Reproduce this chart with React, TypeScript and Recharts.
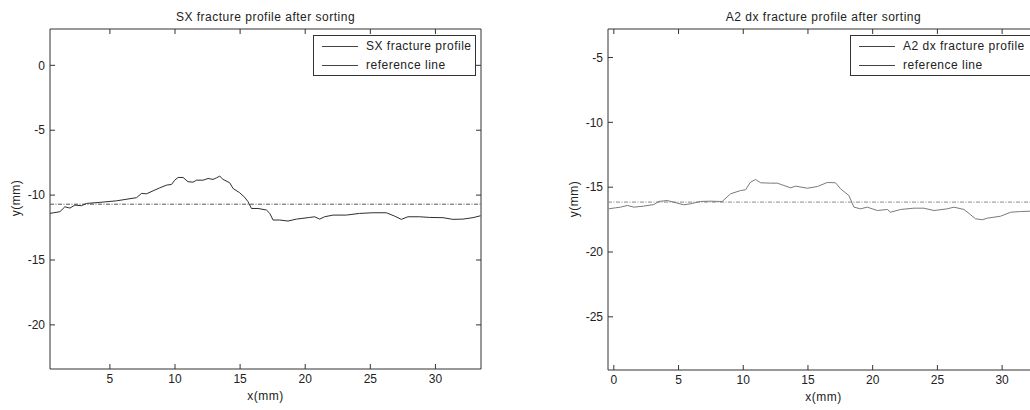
import { LineChart, Line, XAxis, YAxis, ReferenceLine, ReferenceArea } from "recharts";

// sorted fracture profiles, x in mm / y in mm
const SX_X = [0.39, 1.16, 1.54, 1.93, 2.31, 2.82, 3.2, 4.23, 5.51, 7.04, 7.43, 7.81, 8.32, 8.83, 9.35, 9.73, 9.98, 10.24, 10.62, 11.0, 11.39, 11.65, 12.16, 12.54, 12.92, 13.18, 13.44, 13.69, 14.2, 14.46, 14.97, 15.36, 15.61, 15.87, 16.38, 17.02, 17.28, 17.53, 18.04, 18.68, 19.32, 20.35, 20.73, 21.11, 21.49, 22.13, 23.16, 24.18, 25.2, 26.23, 26.87, 27.38, 27.89, 28.79, 29.55, 30.58, 31.34, 32.11, 32.88, 33.47];
const SX_Y = [-11.41, -11.28, -10.9, -11.0, -10.77, -10.82, -10.64, -10.56, -10.44, -10.2, -9.87, -9.9, -9.67, -9.44, -9.23, -9.18, -8.85, -8.64, -8.64, -8.97, -9.0, -8.85, -8.85, -8.72, -8.79, -8.67, -8.54, -8.79, -9.05, -9.49, -9.82, -10.18, -10.51, -11.03, -11.03, -11.15, -11.41, -11.92, -11.92, -12.0, -11.85, -11.72, -11.67, -11.85, -11.67, -11.54, -11.54, -11.41, -11.36, -11.36, -11.62, -11.87, -11.67, -11.67, -11.72, -11.74, -11.87, -11.85, -11.74, -11.59];
const SX_REF = -10.7;

const A2_X = [-0.39, 0.13, 0.52, 1.04, 1.55, 2.32, 3.09, 3.48, 4.13, 4.64, 5.41, 5.93, 6.7, 7.47, 8.11, 8.37, 9.02, 9.79, 10.18, 10.56, 10.95, 11.34, 12.11, 12.63, 13.14, 13.66, 14.04, 14.95, 15.72, 16.49, 17.13, 17.52, 18.16, 18.55, 19.06, 19.58, 20.36, 21.13, 21.38, 22.16, 23.18, 23.96, 24.73, 25.76, 26.28, 27.05, 27.57, 27.95, 28.47, 28.86, 29.88, 30.66, 31.43, 32.2, 32.85];
const A2_Y = [-16.67, -16.59, -16.54, -16.41, -16.54, -16.46, -16.34, -16.1, -16.03, -16.16, -16.36, -16.28, -16.1, -16.08, -16.1, -16.1, -15.51, -15.26, -15.2, -14.61, -14.41, -14.66, -14.69, -14.69, -14.87, -15.05, -14.92, -15.08, -14.95, -14.64, -14.66, -15.13, -15.64, -16.54, -16.67, -16.54, -16.8, -16.72, -16.93, -16.72, -16.62, -16.62, -16.8, -16.67, -16.54, -16.72, -17.13, -17.44, -17.51, -17.39, -17.24, -16.93, -16.88, -16.85, -16.82];
const A2_REF = -16.15;

const SX_XTICKS = [5, 10, 15, 20, 25, 30];
const SX_YTICKS = [-20, -15, -10, -5, 0];
const A2_XTICKS = [0, 5, 10, 15, 20, 25, 30];
const A2_YTICKS = [-25, -20, -15, -10, -5];

const FONT = '"Liberation Sans", Arial, Helvetica, sans-serif';
const W = 500;
const H = 410;
const PLOT_L = 50;
const PLOT_W = 431;
const PLOT_T = 29;
const TEXT = { fontSize: 12, letterSpacing: 0.5 };

const toPoints = (xs: number[], ys: number[]) => xs.map((x, i) => ({ x, y: ys[i] }));

interface PanelProps {
  left: number;
  title: string;
  name: string;
  xs: number[];
  ys: number[];
  refY: number;
  xDomain: [number, number];
  yDomain: [number, number];
  xTicks: number[];
  yTicks: number[];
  bottom: number;
  profileColor: string;
  refColor: string;
  legendW: number;
}

function Panel(p: PanelProps) {
  const data = toPoints(p.xs, p.ys);
  const plotB = H - p.bottom;
  const plotR = PLOT_L + PLOT_W;

  const xTick = (t: any) => (
    <g>
      <line x1={t.x} x2={t.x} y1={plotB} y2={plotB - 5} stroke="#333" />
      <line x1={t.x} x2={t.x} y1={PLOT_T} y2={PLOT_T + 5} stroke="#333" />
      <text x={t.x} y={plotB + 14} textAnchor="middle" fontSize={12} fontFamily={FONT} fill="#222">
        {t.payload.value}
      </text>
    </g>
  );

  const yTick = (t: any) => (
    <g>
      <line x1={PLOT_L} x2={PLOT_L + 5} y1={t.y} y2={t.y} stroke="#333" />
      <line x1={plotR} x2={plotR - 5} y1={t.y} y2={t.y} stroke="#333" />
      <text x={PLOT_L - 5} y={t.y} dy="0.35em" textAnchor="end" fontSize={12} fontFamily={FONT} fill="#222">
        {t.payload.value}
      </text>
    </g>
  );

  return (
    <div style={{ position: "absolute", left: p.left, top: 0, width: W, height: H, fontFamily: FONT, color: "#222" }}>
      <LineChart
        width={W}
        height={H}
        data={data}
        margin={{ top: PLOT_T, right: W - PLOT_L - PLOT_W, bottom: 0, left: 0 }}
      >
        <XAxis
          type="number"
          dataKey="x"
          domain={p.xDomain}
          ticks={p.xTicks}
          allowDataOverflow
          height={p.bottom}
          axisLine={false}
          tickLine={false}
          tick={xTick}
        />
        <YAxis
          type="number"
          domain={p.yDomain}
          ticks={p.yTicks}
          allowDataOverflow
          width={PLOT_L}
          axisLine={false}
          tickLine={false}
          tick={yTick}
        />
        <ReferenceArea
          x1={p.xDomain[0]}
          x2={p.xDomain[1]}
          y1={p.yDomain[0]}
          y2={p.yDomain[1]}
          fill="none"
          stroke="#333"
          strokeWidth={1}
          ifOverflow="visible"
        />
        <ReferenceLine
          y={p.refY}
          stroke={p.refColor}
          strokeWidth={1}
          strokeDasharray="4 1.5 1 1.5"
        />
        <Line
          type="linear"
          dataKey="y"
          name={p.name}
          stroke={p.profileColor}
          strokeWidth={1}
          dot={false}
          isAnimationActive={false}
        />
      </LineChart>

      <div style={{ position: "absolute", top: 10, left: PLOT_L, width: PLOT_W, textAlign: "center", ...TEXT }}>
        {p.title}
      </div>
      <div style={{ position: "absolute", top: plotB + 20, left: PLOT_L, width: PLOT_W, textAlign: "center", ...TEXT }}>
        x(mm)
      </div>
      <div
        style={{
          position: "absolute",
          left: 16 - 40,
          top: (PLOT_T + plotB) / 2 - 8,
          width: 80,
          textAlign: "center",
          ...TEXT,
          transform: "rotate(-90deg)",
        }}
      >
        y(mm)
      </div>

      <div
        style={{
          position: "absolute",
          top: 35,
          left: PLOT_L + PLOT_W - 5 - p.legendW,
          width: p.legendW,
          height: 41,
          boxSizing: "border-box",
          border: "1px solid #333",
          background: "#fff",
          ...TEXT,
        }}
      >
        {[p.name, "reference line"].map((label, i) => (
          <div key={label} style={{ position: "absolute", top: 3 + i * 19, left: 8, display: "flex", alignItems: "center", whiteSpace: "nowrap" }}>
            <span style={{ display: "inline-block", width: 36, height: 1, background: "#444", marginRight: 8 }} />
            <span>{label}</span>
          </div>
        ))}
      </div>
    </div>
  );
}

export default function App() {
  return (
    <div style={{ position: "fixed", left: 0, top: 0, width: 1030, height: 410, overflow: "hidden", background: "#fff" }}>
      <Panel
        left={0}
        title="SX fracture profile after sorting"
        name="SX fracture profile"
        xs={SX_X}
        ys={SX_Y}
        refY={SX_REF}
        xDomain={[0.4, 33.5]}
        yDomain={[-23.4, 2.8]}
        xTicks={SX_XTICKS}
        yTicks={SX_YTICKS}
        bottom={41}
        profileColor="#2e2e2e"
        refColor="#555"
        legendW={163}
      />
      <Panel
        left={558}
        title="A2 dx fracture profile after sorting"
        name="A2 dx fracture profile"
        xs={A2_X}
        ys={A2_Y}
        refY={A2_REF}
        xDomain={[-0.45, 32.85]}
        yDomain={[-29.1, -2.8]}
        xTicks={A2_XTICKS}
        yTicks={A2_YTICKS}
        bottom={40}
        profileColor="#7a7a7a"
        refColor="#888"
        legendW={184}
      />
    </div>
  );
}
